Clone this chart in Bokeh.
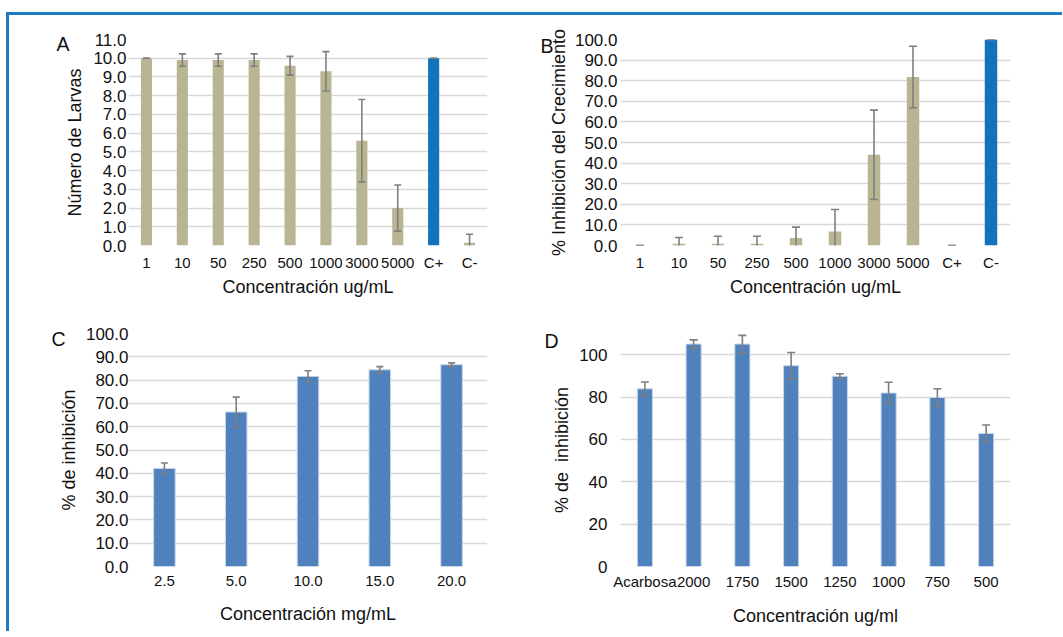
from bokeh.plotting import figure
from bokeh.models import (ColumnDataSource, FactorRange, Range1d, FixedTicker,
                          NumeralTickFormatter, Spacer, LinearAxis)
from bokeh.layouts import gridplot, row, column
from bokeh.embed import file_html
from bokeh.resources import INLINE

# ---------------- data ----------------
A_cats = ["1", "10", "50", "250", "500", "1000", "3000", "5000", "C+", "C-"]
A_vals = [10.0, 9.9, 9.9, 9.9, 9.6, 9.3, 5.6, 2.0, 10.0, 0.15]
A_err = [0.0, 0.33, 0.33, 0.33, 0.5, 1.05, 2.2, 1.23, 0.0, 0.45]
A_ticks = [0, 1, 2, 3, 4, 5, 6, 7, 8, 9, 10, 11]

B_cats = ["1", "10", "50", "250", "500", "1000", "3000", "5000", "C+", "C-"]
B_vals = [0.0, 0.8, 0.8, 0.8, 3.7, 6.8, 44.0, 81.8, 0.0, 100.0]
B_err = [0.0, 3.1, 3.7, 3.7, 5.2, 10.7, 21.7, 14.9, 0.0, 0.0]
B_ticks = [0, 10, 20, 30, 40, 50, 60, 70, 80, 90, 100]

C_cats = ["2.5", "5.0", "10.0", "15.0", "20.0"]
C_vals = [42.1, 66.3, 81.6, 84.4, 86.6]
C_err = [2.3, 6.4, 2.4, 1.4, 0.8]
C_ticks = [0, 10, 20, 30, 40, 50, 60, 70, 80, 90, 100]

D_cats = ["Acarbosa", "2000", "1750", "1500", "1250", "1000", "750", "500"]
D_vals = [83.9, 105.0, 105.0, 94.8, 89.8, 81.9, 79.8, 62.8]
D_err = [3.2, 2.0, 4.1, 6.2, 1.2, 5.1, 4.1, 4.0]
D_ticks = [0, 20, 40, 60, 80, 100]

KHAKI = "#B9B592"
BLUE_CTRL = "#1272BA"
BLUE = "#4F81BD"
ERR = "#7F7F7F"
GRID = "#D9D9D9"
FONT = "Liberation Sans"
FRAME_BLUE = "#1B7BC4"

A_colors = [BLUE_CTRL if c == "C+" else KHAKI for c in A_cats]
B_colors = [BLUE_CTRL if c == "C-" else KHAKI for c in B_cats]
C_colors = [BLUE] * len(C_cats)
D_colors = [BLUE] * len(D_cats)


def panel(cats, vals, errs, colors, ymax, ticks, fmt, ylabel, xlabel, letter,
          letter_y, letter_stand, w, h, borders, ystand, ylstand, xstand,
          xlstand, bar_w, cap, bar_line=None):
    src = ColumnDataSource(dict(
        x=cats, top=vals, color=colors,
        lo=[v - e for v, e in zip(vals, errs)],
        hi=[v + e for v, e in zip(vals, errs)],
    ))
    p = figure(width=w, height=h, x_range=FactorRange(factors=cats),
               y_range=Range1d(0, ymax), output_backend="svg",
               toolbar_location=None, tools="")
    left, right, top, bottom = borders
    p.min_border_left = left
    p.min_border_right = right
    p.min_border_top = top
    p.min_border_bottom = bottom
    p.outline_line_color = None
    p.background_fill_color = "white"
    p.border_fill_color = "white"

    p.vbar(x="x", top="top", width=bar_w, source=src, fill_color="color",
           line_color=bar_line if bar_line else None,
           line_width=1 if bar_line else 0)
    p.segment(x0="x", y0="lo", x1="x", y1="hi", source=src,
              line_color=ERR, line_width=1.6)
    p.scatter(x="x", y="hi", marker="dash", size=cap, source=src,
              line_color=ERR, line_width=1.6)
    p.scatter(x="x", y="lo", marker="dash", size=cap, source=src,
              line_color=ERR, line_width=1.6)

    p.xgrid.grid_line_color = None
    p.ygrid.grid_line_color = GRID
    p.ygrid.grid_line_width = 1.6

    p.yaxis.ticker = FixedTicker(ticks=ticks)
    p.yaxis.formatter = NumeralTickFormatter(format=fmt)
    for ax in (p.xaxis[0], p.yaxis[0]):
        ax.axis_line_color = None
        ax.major_tick_line_color = None
        ax.minor_tick_line_color = None
        ax.major_tick_out = 0
        ax.major_tick_in = 0
        ax.major_label_text_font = FONT
        ax.major_label_text_color = "#111111"
        ax.axis_label_text_font = FONT
        ax.axis_label_text_font_style = "normal"
        ax.axis_label_text_font_size = "18px"
        ax.axis_label_text_color = "#111111"
    p.yaxis.major_label_text_font_size = "17px"
    p.xaxis.major_label_text_font_size = "15px"
    p.yaxis.axis_label = ylabel
    p.xaxis.axis_label = xlabel
    p.yaxis.major_label_standoff = ystand
    p.yaxis.axis_label_standoff = ylstand
    p.xaxis.major_label_standoff = xstand
    p.xaxis.axis_label_standoff = xlstand

    # panel letter: the single label of an outer left axis
    lax = LinearAxis(ticker=FixedTicker(ticks=[letter_y]),
                     major_label_overrides={letter_y: letter})
    lax.axis_line_color = None
    lax.major_tick_line_color = None
    lax.minor_tick_line_color = None
    lax.major_tick_out = 0
    lax.major_tick_in = 0
    lax.major_label_standoff = letter_stand
    lax.major_label_text_font = FONT
    lax.major_label_text_font_size = "19.5px"
    lax.major_label_text_color = "#111111"
    p.add_layout(lax, "left")
    return p


pA = panel(A_cats, A_vals, A_err, A_colors, 11, A_ticks, "0.0",
           "Número de Larvas", "Concentración ug/mL", "A", 10.75, -7,
           521, 295, (114, 42, 24, 65), 2, 5, 8, 3, 0.31, 7)
pB = panel(B_cats, B_vals, B_err, B_colors, 100, B_ticks, "0.0",
           "% Inhibición del Crecimiento", "Concentración ug/mL", "B",
           96.7, -8, 532, 295, (90, 52, 24, 65), 3, 3, 8, 3, 0.32, 8)
pC = panel(C_cats, C_vals, C_err, C_colors, 100, C_ticks, "0.0",
           "% de inhibición", "Concentración mg/mL", "C", 97.5, -10,
           521, 321, (119, 43, 23, 65), 0, 4, 9, 15, 0.30, 7,
           bar_line="#C9D6EA")
pD = panel(D_cats, D_vals, D_err, D_colors, 110, D_ticks, "0",
           "% de\u00a0 inhibición", "Concentración ug/ml", "D", 106.4, -9,
           532, 321, (87, 52, 23, 63), 13, 4, 6, 13, 0.31, 8,
           bar_line="#C9D6EA")

grid = gridplot([[pA, pB], [pC, pD]], toolbar_location=None)

# blue frame: left strip (white 6px + blue 3px) and top band
left_strip = Spacer(width=9, height=619, styles={
    "background": "linear-gradient(to right, #ffffff 0px, #ffffff 6px, "
                  f"{FRAME_BLUE} 6px, {FRAME_BLUE} 9px)"})
left_col = column(Spacer(width=9, height=12), left_strip)
top_band = Spacer(width=1053, height=3,
                  styles={"background-color": FRAME_BLUE})
right_col = column(Spacer(width=1053, height=12), top_band, grid)
layout = row(left_col, right_col)

open("out.html", "w").write(file_html(layout, INLINE))
